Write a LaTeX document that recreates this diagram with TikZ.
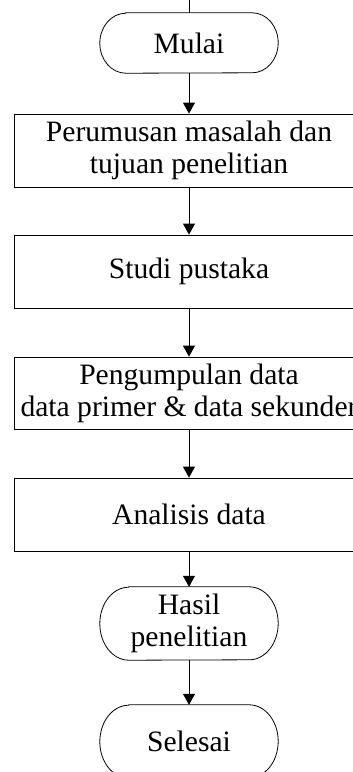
\documentclass[tikz,border=0pt]{standalone}
\usepackage{fontspec}
\setmainfont{Liberation Serif}
\usetikzlibrary{arrows.meta}
% Terminal outline: flat top and bottom, half-elliptical ends.
% #1 node name, #2 horizontal radius of the ends, #3 half the node height
\newcommand\termoutline[3]{%
  \draw[line width=0.8pt]
    ([xshift=#2]#1.north west) -- ([xshift=-#2]#1.north east)
    arc[start angle=90, end angle=-90, x radius=#2, y radius=#3]
    -- ([xshift=#2]#1.south west)
    arc[start angle=270, end angle=90, x radius=#2, y radius=#3] -- cycle;}
\begin{document}
\begin{tikzpicture}[x=1pt,y=-1pt,
  every node/.style={font=\fontsize{29.6}{32}\selectfont, align=center, inner sep=0pt},
  procbox/.style={draw, line width=0.8pt, minimum width=350pt, minimum height=73pt},
  termbox/.style={minimum width=178pt},
  flow/.style={line width=0.8pt, -{Triangle[width=12pt,length=11pt]}}
]
\useasboundingbox (0,0) rectangle (353,772);
\clip (0,0) rectangle (353,772);
\coordinate (top) at (189,0);
\node[termbox, minimum height=60pt] (mulai) at (189,43) {Mulai};
\node[procbox] (rumus) at (189,150.5) {Perumusan masalah dan\\tujuan penelitian};
\node[procbox] (studi) at (189,271.5) {Studi pustaka};
\node[procbox, minimum height=72pt] (kumpul) at (189,393) {Pengumpulan data\\data primer \& data sekunder};
\node[procbox] (analisis) at (189,514.5) {Analisis data};
\node[termbox, minimum height=73pt] (hasil) at (189,623.5) {Hasil\\penelitian};
\node[termbox, minimum height=73pt] (selesai) at (189,741.5) {Selesai};
\termoutline{mulai}{26pt}{30pt}
\termoutline{hasil}{29pt}{36.5pt}
\termoutline{selesai}{29pt}{36.5pt}
\draw[line width=0.8pt] (top) -- (mulai.north);
\draw[flow] (mulai) -- (rumus);
\draw[flow] (rumus) -- (studi);
\draw[flow] (studi) -- (kumpul);
\draw[flow] (kumpul) -- (analisis);
\draw[flow] (analisis) -- (hasil);
\draw[flow] (hasil) -- (selesai);
\end{tikzpicture}
\end{document}
